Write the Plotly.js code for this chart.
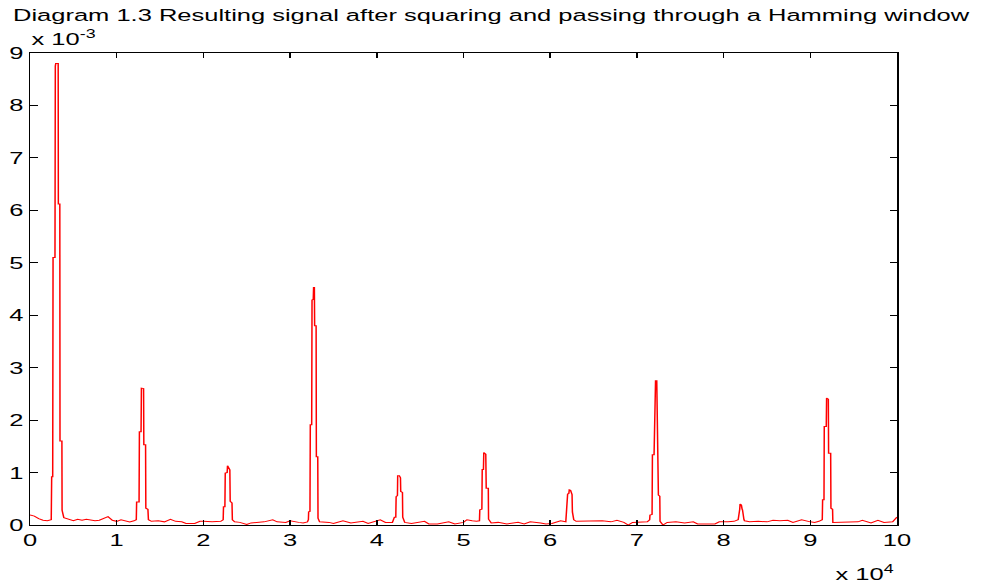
<!DOCTYPE html>
<html>
<head>
<meta charset="utf-8">
<script src="https://cdn.plot.ly/plotly-3.0.1.min.js"></script>
<style>
  html, body { margin:0; padding:0; background:#fff; }
  #wrap { width:987px; height:586px; overflow:hidden; position:relative; }
  #chart { width:658px; height:586px; transform:scaleX(1.5); transform-origin:0 0; }
</style>
</head>
<body>
<div id="wrap"><div id="chart"></div></div>
<script>
// Sample position (in units of 10^4 samples)
const samplePos = [
  0,0.05,0.1,0.15,0.2,0.245,
  0.25,0.262,0.266,0.288,0.292,0.297,0.325,0.327,0.344,0.346,0.368,0.37,
  0.39,0.45,0.5,0.55,0.6,0.65,0.7,0.75,0.8,0.85,0.9,0.95,1.0,1.05,1.1,1.15,1.2,1.226,
  1.23,1.258,1.262,1.281,1.285,1.31,1.313,1.333,1.336,1.36,1.366,
  1.4,1.48,1.55,1.62,1.68,1.75,1.8,1.9,1.96,2.0,2.1,2.2,2.228,
  2.232,2.248,2.252,2.274,2.278,2.292,2.305,2.309,2.33,2.334,
  2.36,2.42,2.5,2.55,2.6,2.7,2.8,2.85,2.95,3.0,3.1,3.15,3.2,3.211,
  3.214,3.229,3.233,3.249,3.253,3.267,3.271,3.28,3.283,3.3,3.303,3.319,3.322,
  3.34,3.45,3.5,3.61,3.7,3.84,3.9,4.04,4.1,4.18,4.198,
  4.203,4.219,4.223,4.238,4.241,4.26,4.264,4.273,4.276,4.296,4.299,4.322,
  4.4,4.55,4.6,4.7,4.83,4.9,5.0,5.04,5.1,5.15,5.184,
  5.188,5.212,5.216,5.23,5.234,5.257,5.262,5.286,5.289,
  5.32,5.4,5.5,5.63,5.7,5.77,5.89,5.95,6.02,6.12,6.18,
  6.186,6.197,6.201,6.215,6.22,6.235,6.24,6.252,6.256,6.272,
  6.3,6.4,6.5,6.6,6.7,6.77,6.85,6.9,6.95,7.05,7.12,7.147,
  7.151,7.175,7.179,7.198,7.202,7.215,7.229,7.232,7.245,7.248,7.264,7.267,
  7.3,7.35,7.45,7.55,7.65,7.7,7.9,7.95,8.05,8.12,8.168,
  8.172,8.186,8.19,8.205,8.214,8.218,8.235,8.241,
  8.3,8.4,8.5,8.57,8.65,8.74,8.8,8.9,9.0,9.05,9.1,9.138,
  9.142,9.158,9.161,9.184,9.188,9.208,9.211,9.235,9.238,9.257,9.26,
  9.35,9.45,9.55,9.6,9.7,9.78,9.85,9.95,10
];
// Signal value (in units of 10^-3)
const signalVal = [
  0.19,0.17,0.12,0.09,0.08,0.1,
  0.92,0.92,5.1,5.1,8.75,8.8,8.8,6.12,6.12,1.6,1.6,0.28,
  0.14,0.1,0.08,0.11,0.09,0.11,0.1,0.08,0.09,0.12,0.16,0.09,0.07,0.1,0.08,0.06,0.08,0.1,
  0.44,0.44,1.78,1.78,2.61,2.6,1.53,1.53,0.32,0.3,0.1,
  0.07,0.08,0.06,0.11,0.07,0.06,0.03,0.03,0.07,0.07,0.06,0.07,0.1,
  0.35,0.35,0.99,1.0,1.13,1.1,1.05,0.45,0.42,0.1,
  0.06,0.05,0.01,0.04,0.05,0.06,0.1,0.06,0.05,0.08,0.05,0.04,0.06,0.1,
  0.25,0.26,1.91,1.91,4.29,4.3,4.53,4.53,3.8,3.8,1.3,1.3,0.13,
  0.06,0.05,0.03,0.08,0.04,0.07,0.03,0.1,0.05,0.05,0.1,
  0.15,0.15,0.54,0.56,0.94,0.94,0.9,0.9,0.64,0.62,0.15,0.05,
  0.03,0.07,0.02,0.02,0.06,0.02,0.05,0.1,0.08,0.07,0.08,
  0.29,0.3,1.06,1.06,1.38,1.35,0.7,0.7,0.11,
  0.04,0.05,0.02,0.05,0.02,0.06,0.04,0.02,0.03,0.08,0.06,
  0.25,0.25,0.59,0.6,0.67,0.66,0.6,0.58,0.25,0.1,
  0.07,0.07,0.07,0.08,0.06,0.09,0.05,0.0,0.05,0.06,0.06,0.1,
  0.19,0.2,1.34,1.34,2.72,2.75,2.75,2.1,2.1,0.57,0.55,0.07,
  0.0,0.05,0.06,0.04,0.06,0.02,0.02,0.06,0.06,0.07,0.1,
  0.25,0.3,0.4,0.38,0.3,0.29,0.1,0.08,
  0.06,0.07,0.06,0.09,0.08,0.09,0.05,0.1,0.06,0.05,0.07,0.1,
  0.48,0.48,1.88,1.88,2.42,2.4,1.37,1.37,0.32,0.3,0.05,
  0.05,0.05,0.06,0.09,0.04,0.09,0.05,0.06,0.15
];
const xTicks = [0,1,2,3,4,5,6,7,8,9,10];
const yTicks = [0,1,2,3,4,5,6,7,8,9];
const titleText = 'Diagram 1.3 Resulting signal after squaring and passing through a Hamming window';

const FONT = 'Arial, "Liberation Sans", sans-serif';
const axisCommon = {
  showgrid:false, zeroline:false, showline:true, linecolor:'#000', linewidth:1,
  mirror:'ticks', ticks:'inside', ticklen:5, tickwidth:1, tickcolor:'#000',
  tickfont:{family:FONT, size:17, color:'#000'}, fixedrange:true
};
const layout = {
  width:658, height:586,
  paper_bgcolor:'#fff', plot_bgcolor:'#fff',
  margin:{l:20, r:60, t:53, b:61},
  showlegend:false,
  title:{text:titleText, font:{family:FONT, size:17, color:'#000'},
         xref:'container', x:0.0132, xanchor:'left', yref:'container', y:0.974, yanchor:'middle'},
  xaxis:Object.assign({}, axisCommon, {range:[0,10], tickvals:xTicks, ticktext:xTicks.map(String)}),
  yaxis:Object.assign({}, axisCommon, {range:[0,9], tickvals:yTicks, ticktext:yTicks.map(String)}),
  annotations:[
    {text:'x 10<sup>-3</sup>', xref:'paper', yref:'paper', x:0, y:1.0, xanchor:'left', yanchor:'bottom',
     showarrow:false, font:{family:FONT, size:17, color:'#000'}, xshift:-1, yshift:2},
    {text:'x 10<sup>4</sup>', xref:'paper', yref:'paper', x:1, y:-0.101, xanchor:'right', yanchor:'middle',
     showarrow:false, font:{family:FONT, size:17, color:'#000'}}
  ]
};
Plotly.newPlot('chart', [{
  x:samplePos, y:signalVal, type:'scatter', mode:'lines',
  line:{color:'#ff0000', width:1}, hoverinfo:'skip'
}], layout, {staticPlot:true, displayModeBar:false});
</script>
</body>
</html>
